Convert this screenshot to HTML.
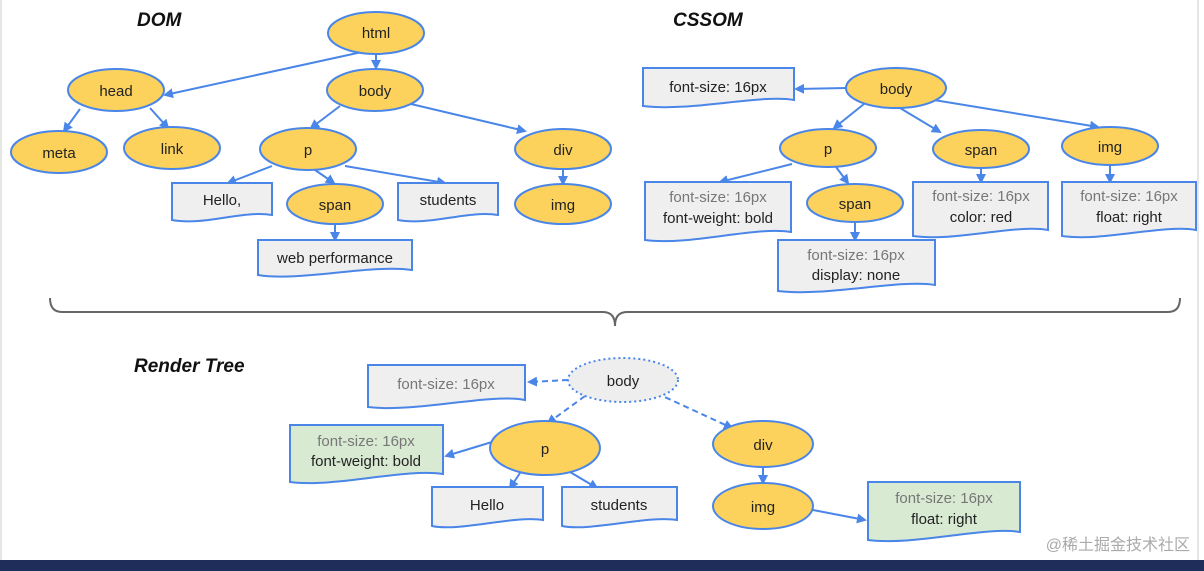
<!DOCTYPE html>
<html><head><meta charset="utf-8"><style>
html,body{margin:0;padding:0;background:#fff;}
svg{display:block;font-family:"Liberation Sans",Arial,sans-serif;}
.e{fill:#fcd25c;stroke:#4a86e8;stroke-width:2;}
.d{fill:#efefef;stroke:#4a86e8;stroke-width:2;}
.g{fill:#d9ead3;stroke:#4a86e8;stroke-width:2;}
.l{stroke:#4a86e8;stroke-width:2;fill:none;marker-end:url(#a);}
.dl{stroke:#4a86e8;stroke-width:2;fill:none;stroke-dasharray:6 4;marker-end:url(#a);}
text{font-size:15px;fill:#222;text-anchor:middle;}
.gr{fill:#777;}
.t{font-weight:bold;font-style:italic;font-size:19px;text-anchor:start;fill:#111;}
</style></head><body>
<svg width="1204" height="571" viewBox="0 0 1204 571">
<defs><marker id="a" markerWidth="10" markerHeight="10" refX="8" refY="5" orient="auto" markerUnits="userSpaceOnUse"><path d="M0,0 L10,5 L0,10 Z" fill="#4a86e8"/></marker></defs>
<rect x="0" y="0" width="1204" height="571" fill="#fff"/>
<line x1="1" y1="0" x2="1" y2="560" stroke="#ccc"/>
<line x1="1198" y1="0" x2="1198" y2="560" stroke="#ccc"/>

<text class="t" x="137" y="26">DOM</text>
<text class="t" x="673" y="26">CSSOM</text>
<text class="t" x="134" y="372">Render Tree</text>

<!-- DOM connectors -->
<path class="l" d="M362,52 L165,95"/>
<path class="l" d="M376,54 L376,68"/>
<path class="l" d="M80,109 L64,131"/>
<path class="l" d="M150,108 L168,128"/>
<path class="l" d="M340,106 L311,128"/>
<path class="l" d="M411,104 L525,131"/>
<path class="l" d="M272,166 L228,183"/>
<path class="l" d="M315,170 L334,183"/>
<path class="l" d="M345,166 L445,183"/>
<path class="l" d="M563,170 L563,184"/>
<path class="l" d="M335,225 L335,240"/>

<!-- DOM nodes -->
<ellipse class="e" cx="376" cy="33" rx="48" ry="21"/><text x="376" y="38">html</text>
<ellipse class="e" cx="116" cy="90" rx="48" ry="21"/><text x="116" y="96">head</text>
<ellipse class="e" cx="375" cy="90" rx="48" ry="21"/><text x="375" y="96">body</text>
<ellipse class="e" cx="59" cy="152" rx="48" ry="21"/><text x="59" y="158">meta</text>
<ellipse class="e" cx="172" cy="148" rx="48" ry="21"/><text x="172" y="154">link</text>
<ellipse class="e" cx="308" cy="149" rx="48" ry="21"/><text x="308" y="155">p</text>
<ellipse class="e" cx="563" cy="149" rx="48" ry="20"/><text x="563" y="155">div</text>
<ellipse class="e" cx="563" cy="204" rx="48" ry="20"/><text x="563" y="210">img</text>
<ellipse class="e" cx="335" cy="204" rx="48" ry="20"/><text x="335" y="210">span</text>
<path class="d" d="M172,183 H272 V215 C242,210 205,226 172,220 Z"/><text x="222" y="205">Hello,</text>
<path class="d" d="M398,183 H498 V215 C468,210 430,226 398,220 Z"/><text x="448" y="205">students</text>
<path class="d" d="M258,240 H412 V270 C370,264 300,282 258,275 Z"/><text x="335" y="263">web performance</text>

<!-- CSSOM connectors -->
<path class="l" d="M846,88 L796,89"/>
<path class="l" d="M864,104 L834,128"/>
<path class="l" d="M900,108 L940,132"/>
<path class="l" d="M934,100 L1098,127"/>
<path class="l" d="M792,164 L720,182"/>
<path class="l" d="M836,167 L848,183"/>
<path class="l" d="M981,168 L981,182"/>
<path class="l" d="M1110,165 L1110,182"/>
<path class="l" d="M855,222 L855,240"/>

<ellipse class="e" cx="896" cy="88" rx="50" ry="20"/><text x="896" y="94">body</text>
<ellipse class="e" cx="828" cy="148" rx="48" ry="19"/><text x="828" y="154">p</text>
<ellipse class="e" cx="981" cy="149" rx="48" ry="19"/><text x="981" y="155">span</text>
<ellipse class="e" cx="1110" cy="146" rx="48" ry="19"/><text x="1110" y="152">img</text>
<ellipse class="e" cx="855" cy="203" rx="48" ry="19"/><text x="855" y="209">span</text>
<path class="d" d="M643,68 H794 V100 C760,94 690,112 643,106 Z"/><text x="718" y="92">font-size: 16px</text>
<path class="d" d="M645,182 H791 V232 C755,226 690,246 645,240 Z"/><text class="gr" x="718" y="202">font-size: 16px</text><text x="718" y="223">font-weight: bold</text>
<path class="d" d="M913,182 H1048 V230 C1015,224 955,242 913,236 Z"/><text class="gr" x="981" y="201">font-size: 16px</text><text x="981" y="222">color: red</text>
<path class="d" d="M1062,182 H1196 V230 C1163,224 1103,242 1062,236 Z"/><text class="gr" x="1129" y="201">font-size: 16px</text><text x="1129" y="222">float: right</text>
<path class="d" d="M778,240 H935 V285 C900,279 825,297 778,291 Z"/><text class="gr" x="856" y="260">font-size: 16px</text><text x="856" y="280">display: none</text>

<!-- bracket -->
<path d="M50,298 Q50,312 62,312 H603 Q615,312 615,326 Q615,312 627,312 H1168 Q1180,312 1180,298" stroke="#666" stroke-width="2" fill="none"/>

<!-- Render tree -->
<path class="dl" d="M568,380 L529,382"/>
<path class="dl" d="M585,396 L548,423"/>
<path class="dl" d="M656,393 L732,428"/>
<path class="l" d="M492,442 L446,456"/>
<path class="l" d="M522,470 L510,488"/>
<path class="l" d="M570,472 L597,488"/>
<path class="l" d="M763,467 L763,483"/>
<path class="l" d="M813,510 L865,520"/>

<ellipse cx="623" cy="380" rx="55" ry="22" fill="#eeeeee" stroke="#4a86e8" stroke-width="2" stroke-dasharray="2 3"/><text x="623" y="386">body</text>
<ellipse class="e" cx="545" cy="448" rx="55" ry="27"/><text x="545" y="454">p</text>
<ellipse class="e" cx="763" cy="444" rx="50" ry="23"/><text x="763" y="450">div</text>
<ellipse class="e" cx="763" cy="506" rx="50" ry="23"/><text x="763" y="512">img</text>
<path class="d" d="M368,365 H525 V400 C490,393 415,413 368,407 Z"/><text class="gr" x="446" y="389">font-size: 16px</text>
<path class="g" d="M290,425 H443 V474 C405,468 335,488 290,482 Z"/><text class="gr" x="366" y="446">font-size: 16px</text><text x="366" y="466">font-weight: bold</text>
<path class="d" d="M432,487 H543 V520 C515,515 460,532 432,526 Z"/><text x="487" y="510">Hello</text>
<path class="d" d="M562,487 H677 V520 C648,515 590,532 562,526 Z"/><text x="619" y="510">students</text>
<path class="g" d="M868,482 H1020 V532 C985,526 915,546 868,540 Z"/><text class="gr" x="944" y="503">font-size: 16px</text><text x="944" y="524">float: right</text>

<text x="1190" y="550" style="text-anchor:end;font-size:16px;fill:#aaa;font-family:'Liberation Sans','Noto Sans CJK SC',sans-serif;">@稀土掘金技术社区</text>
<rect x="0" y="560" width="1204" height="11" fill="#1f2d5a"/>
</svg>
</body></html>
